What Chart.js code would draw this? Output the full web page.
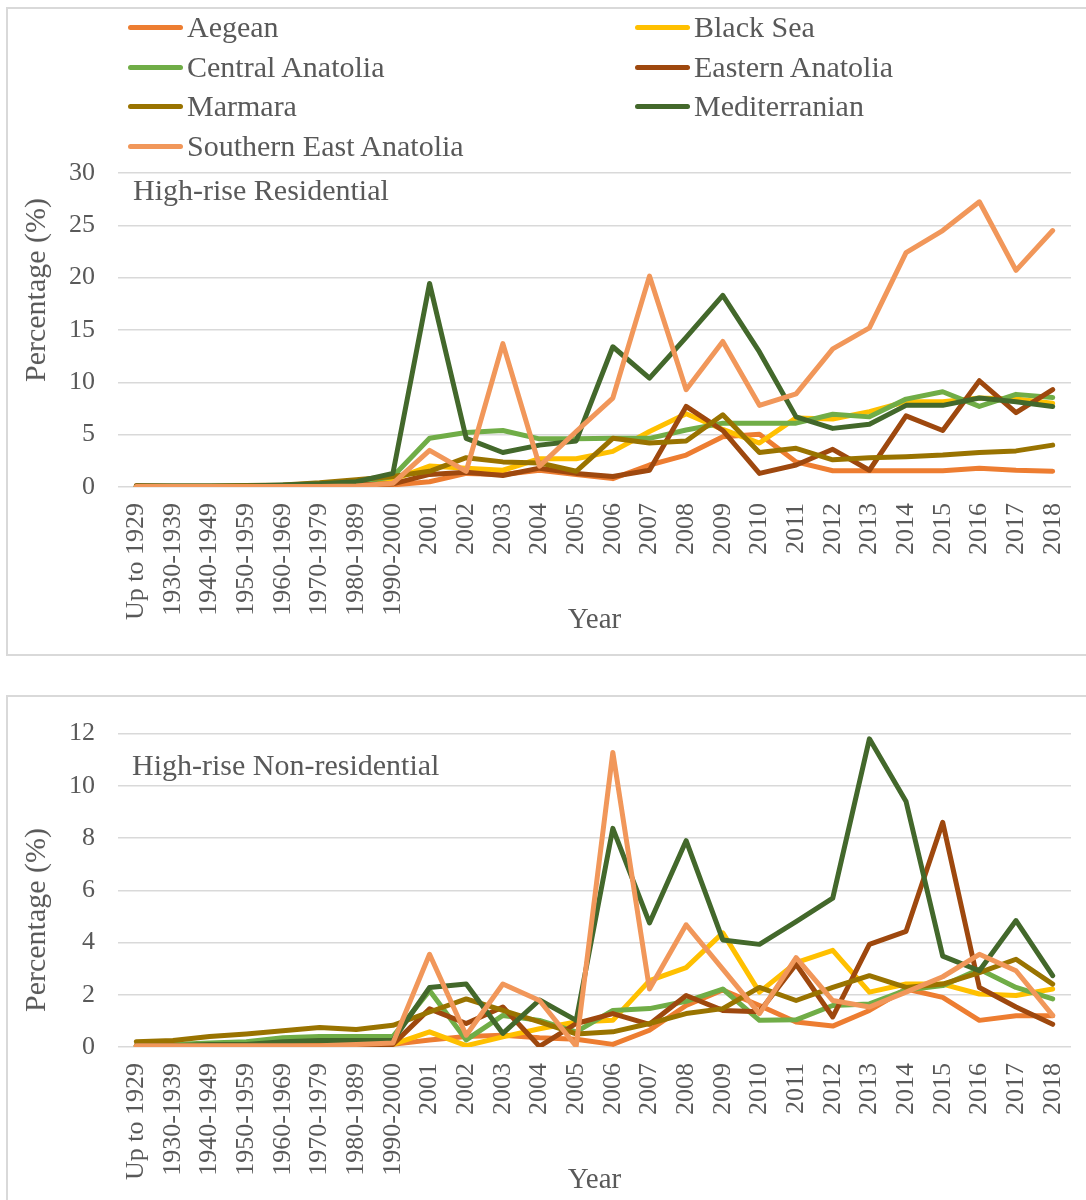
<!DOCTYPE html>
<html>
<head>
<meta charset="utf-8">
<script src="https://cdn.jsdelivr.net/npm/chart.js@4"></script>
<style>
  html, body { margin:0; padding:0; background:#fff; }
  body { width:1086px; height:1200px; position:relative; overflow:hidden; font-family:"Liberation Serif","Times New Roman",serif; color:#595959; }
  .box { position:absolute; border:2px solid #d9d9d9; box-sizing:border-box; }
  .cv { position:absolute; left:0; }
  .leg { position:absolute; font-size:30px; line-height:34px; white-space:nowrap; }
  .legline { position:absolute; height:5px; border-radius:3px; width:55px; }
  .ttl { position:absolute; font-size:30px; line-height:34px; white-space:nowrap; }
  .ytl { position:absolute; font-size:30px; line-height:34px; white-space:nowrap; transform:translate(-50%,-50%) rotate(-90deg); }
</style>
</head>
<body>
<div class="box" style="left:6px; top:7px; width:1100px; height:649px;"></div>
<div class="box" style="left:6px; top:695px; width:1100px; height:520px;"></div>
<div style="position:absolute; left:0; top:0; width:1086px; height:655px;"><canvas id="c1" class="cv"></canvas></div>
<div style="position:absolute; left:0; top:695px; width:1086px; height:505px;"><canvas id="c2" class="cv"></canvas></div>
<div id="legend"></div>
<div class="ttl" style="left:133px; top:173px;">High-rise Residential</div>
<div class="ttl" style="left:132px; top:748px;">High-rise Non-residential</div>
<div class="ytl" style="left:35px; top:290px;">Percentage (%)</div>
<div class="ytl" style="left:35px; top:920px;">Percentage (%)</div>
<script>
const categories = ["Up to 1929","1930-1939","1940-1949","1950-1959","1960-1969","1970-1979","1980-1989","1990-2000",
  "2001","2002","2003","2004","2005","2006","2007","2008","2009","2010","2011","2012","2013","2014","2015","2016","2017","2018"];
const regions = ["Aegean","Black Sea","Central Anatolia","Eastern Anatolia","Marmara","Mediterranian","Southern East Anatolia"];
const colors = ["#ED7D31","#FFC000","#70AD47","#9E480E","#997300","#43682B","#F1975A"];

// High-rise Residential (%)
const resAegean   = [0.15,0.05,0.05,0.05,0.05,0.05,0.1,0.2, 0.5,1.3,1.2,1.6,1.2, 0.8,2.1,3.05,4.8,5.05,2.4,1.55,1.55,1.55,1.55,1.8,1.6,1.5];
const resBlackSea = [0.05,0.05,0.05,0.05,0.1,0.1,0.2,0.7, 2.0,1.8,1.6,2.7,2.7, 3.4,5.3,7.0,5.5,4.2,6.6,6.5,7.2,8.15,8.15,8.5,8.4,8.0];
const resCentral  = [0.05,0.05,0.05,0.1,0.15,0.2,0.4,1.0, 4.65,5.2,5.4,4.6,4.6, 4.65,4.65,5.45,6.1,6.1,6.1,6.95,6.7,8.4,9.1,7.7,8.85,8.55];
const resEastern  = [0.05,0.05,0.05,0.05,0.05,0.1,0.2,0.3, 1.2,1.4,1.1,1.8,1.3, 1.0,1.6,7.7,5.4,1.3,2.1,3.6,1.6,6.8,5.4,10.15,7.1,9.3];
const resMarmara  = [0.1,0.1,0.1,0.15,0.2,0.4,0.7,1.0, 1.5,2.8,2.4,2.3,1.5, 4.65,4.2,4.4,6.9,3.3,3.7,2.6,2.8,2.9,3.05,3.3,3.45,4.0];
const resMedit    = [0.1,0.1,0.1,0.1,0.2,0.3,0.5,1.3, 19.45,4.65,3.3,4.0,4.4, 13.4,10.4,14.3,18.3,12.9,6.7,5.6,6.0,7.8,7.8,8.5,8.15,7.7];
const resSEA      = [0.05,0.05,0.05,0.05,0.05,0.05,0.1,0.35, 3.5,1.5,13.7,2.0,5.3, 8.5,20.15,9.3,13.9,7.8,8.9,13.2,15.2,22.4,24.5,27.25,20.7,24.5];

// High-rise Non-residential (%)
const nonAegean   = [0.05,0.05,0.05,0.05,0.05,0.05,0.05,0.1, 0.27,0.4,0.45,0.35,0.3, 0.1,0.64,1.59,2.18,1.59,0.96,0.8,1.4,2.22,1.9,1.02,1.2,1.2];
const nonBlackSea = [0.05,0.05,0.05,0.05,0.05,0.05,0.05,0.1, 0.58,0.05,0.39,0.7,0.96, 1.02,2.54,3.04,4.37,2.1,3.23,3.7,2.1,2.41,2.41,2.03,1.97,2.22];
const nonCentral  = [0.05,0.1,0.15,0.2,0.35,0.4,0.4,0.4, 2.16,0.27,1.21,1.02,0.58, 1.4,1.47,1.75,2.22,1.02,1.04,1.59,1.65,2.18,2.35,2.98,2.28,1.84];
const nonEastern  = [0.05,0.05,0.05,0.05,0.05,0.05,0.05,0.1, 1.46,0.9,1.53,0.02,0.9, 1.28,0.87,1.97,1.4,1.35,3.17,1.15,3.93,4.43,8.6,2.28,1.53,0.87];
const nonMarmara  = [0.2,0.25,0.4,0.5,0.62,0.75,0.67,0.83, 1.34,1.84,1.4,0.96,0.5, 0.58,0.9,1.28,1.47,2.28,1.78,2.28,2.73,2.28,2.41,2.85,3.36,2.41];
const nonMedit    = [0.05,0.05,0.1,0.1,0.2,0.25,0.25,0.25, 2.28,2.41,0.52,1.8,1.02, 8.37,4.75,7.9,4.1,3.93,4.8,5.7,11.8,9.4,3.48,2.92,4.84,2.73];
const nonSEA      = [0.05,0.05,0.05,0.05,0.05,0.05,0.1,0.15, 3.55,0.45,2.41,1.78,0.03, 11.28,2.22,4.68,2.98,1.28,3.42,1.78,1.53,2.1,2.69,3.55,2.92,1.21];

const resTicks = [0,5,10,15,20,25,30];
const nonTicks = [0,2,4,6,8,10,12];

const resSeries = [resAegean,resBlackSea,resCentral,resEastern,resMarmara,resMedit,resSEA];
const nonSeries = [nonAegean,nonBlackSea,nonCentral,nonEastern,nonMarmara,nonMedit,nonSEA];

// HTML legend (two columns)
const legendEl = document.getElementById('legend');
const rowY = [27,67,106,146];
regions.forEach((r,i)=>{
  const col = i % 2, row = Math.floor(i/2);
  const lineX = col===0 ? 128 : 635;
  const textX = col===0 ? 187 : 694;
  const d = document.createElement('div');
  d.className='leg';
  d.style.left = textX+'px';
  d.style.top = (rowY[row]-17)+'px';
  d.textContent = r;
  legendEl.appendChild(d);
  const ln = document.createElement('div');
  ln.className = 'legline';
  ln.style.left = lineX+'px';
  ln.style.top = (rowY[row]-2)+'px';
  ln.style.background = colors[i];
  legendEl.appendChild(ln);
});

const FONT = "'Liberation Serif','Times New Roman',serif";
Chart.defaults.font.family = FONT;
Chart.defaults.color = '#595959';

function makeChart(id, series, ticks, pad, xHeight){
  const datasets = series.map((s,i)=>({
    label: regions[i], data: s, borderColor: colors[i], backgroundColor: colors[i],
    borderWidth: 5, pointRadius: 0, pointHoverRadius: 0, tension: 0,
    borderCapStyle:'round', borderJoinStyle:'round', fill:false, order: series.length - i
  }));
  return new Chart(document.getElementById(id), {
    type:'line',
    data:{ labels: categories, datasets },
    options:{
      responsive:true, maintainAspectRatio:false, animation:false,
      events: [],
      layout:{ padding: pad },
      plugins:{ legend:{display:false}, tooltip:{enabled:false}, title:{display:false} },
      scales:{
        x:{
          type:'category', offset:true,
          grid:{ display:false, drawTicks:false },
          border:{ display:false },
          ticks:{ autoSkip:false, maxRotation:90, minRotation:90, padding:16, color:'#595959', font:{ size:26, family:FONT } },
          title:{ display:true, text:'Year', color:'#595959', font:{ size:29, family:FONT }, padding:{ top:0, bottom:2 } },
          afterFit:(sc)=>{ sc.height = xHeight; sc.paddingLeft = 0; sc.paddingRight = 0; }
        },
        y:{
          min: ticks[0], max: ticks[ticks.length-1],
          afterBuildTicks:(sc)=>{ sc.ticks = ticks.map(v=>({value:v})); },
          grid:{ color:'#d9d9d9', lineWidth:1.5, drawTicks:false },
          border:{ display:false },
          ticks:{ padding:23, color:'#595959', font:{ size:26, family:FONT } },
          afterFit:(sc)=>{ sc.width = 118; }
        }
      }
    }
  });
}

makeChart('c1', resSeries, resTicks, {top:173, right:15, bottom:15, left:0}, 153);
makeChart('c2', nonSeries, nonTicks, {top:35, right:15, bottom:0, left:0}, 153);
</script>
</body>
</html>
